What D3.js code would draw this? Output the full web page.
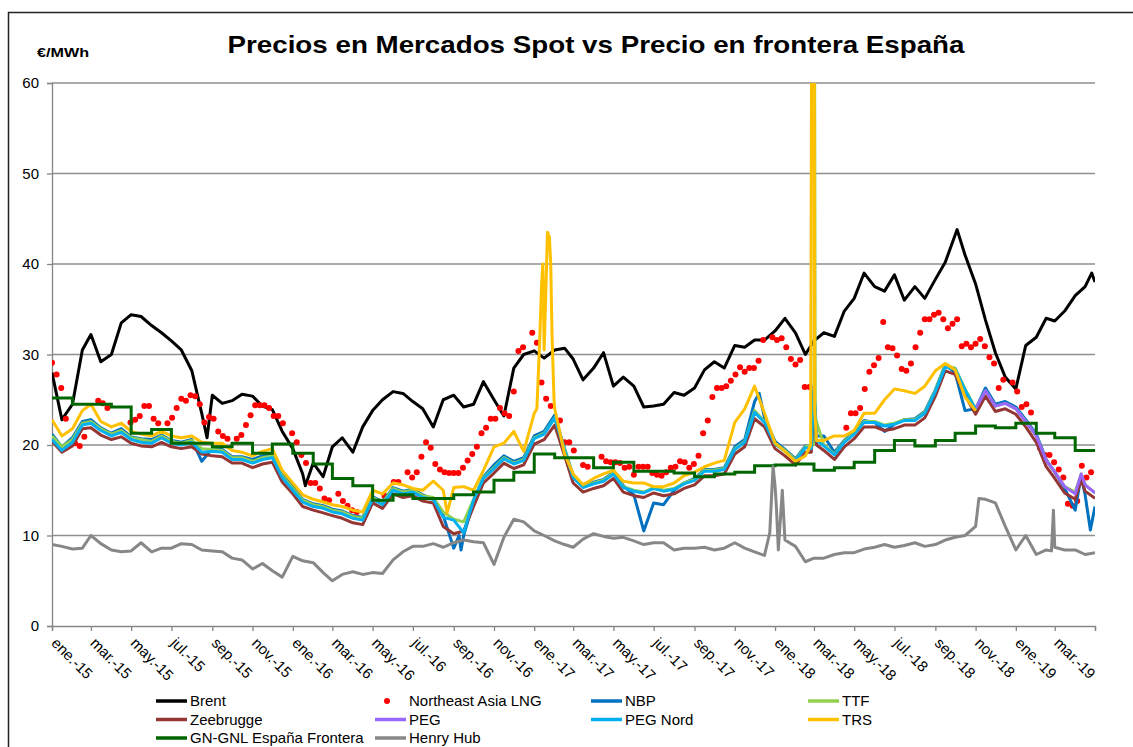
<!DOCTYPE html>
<html>
<head>
<meta charset="utf-8">
<script src="https://cdn.jsdelivr.net/npm/d3@7"></script>
<style>
  body { margin: 0; background: #fff; }
  svg { display: block; }
  text { font-family: "Liberation Sans", Arial, sans-serif; }
</style>
</head>
<body>
<svg id="chart" width="1133" height="747"></svg>
<script>
// semi-monthly values (1st and 16th of each month, Jan 2015 -> May 2019), €/MWh
var brent = [28.0, 22.8, 24.5, 30.5, 32.2, 29.2, 30.0, 33.5, 34.4, 34.2,
  33.2, 32.4, 31.5, 30.5, 28.2, 23.5, 25.5, 24.6, 24.9, 25.6,
  25.4, 24.3, 23.9, 21.5, 19.6, 16.8, 18.0, 16.5, 19.8, 20.8,
  19.2, 22.0, 23.8, 25.0, 25.9, 25.7, 24.8, 24.0, 22.0, 25.0,
  25.5, 24.2, 24.5, 27.0, 25.0, 23.2, 28.5, 30.0, 30.4, 29.6,
  30.5, 30.7, 29.5, 27.2, 28.5, 30.2, 26.5, 27.5, 26.5, 24.2,
  24.3, 24.5, 25.8, 25.5, 26.3, 28.3, 29.2, 28.5, 31.0, 30.8,
  31.6, 31.6, 32.6, 34.0, 32.4, 30.0, 31.5, 32.4, 32.0, 34.8,
  36.2, 39.0, 37.5, 37.0, 38.8, 36.0, 37.5, 36.2, 38.3, 40.2,
  43.2, 41.0, 37.8, 33.8, 30.2, 27.5, 26.2, 31.0, 31.9, 34.0,
  33.7, 34.8, 36.5, 37.5, 38.0];
var brentExtra = [["2015-08-24", 20.8], ["2016-01-20", 15.5], ["2018-10-04", 43.8], ["2019-04-26", 39.0]];

var nbp = [21.2, 19.8, 20.8, 22.6, 22.8, 21.9, 21.3, 21.8, 20.9, 20.7,
  20.6, 21.1, 20.5, 20.3, 20.6, 18.2, 19.6, 19.5, 18.7, 18.7,
  18.4, 18.8, 18.9, 16.8, 15.4, 14.0, 13.5, 13.3, 12.9, 12.7,
  12.2, 12.0, 14.3, 13.7, 15.3, 14.9, 15.1, 14.5, 14.0, 12.2,
  8.6, 10.0, 13.8, 16.5, 17.8, 18.8, 18.2, 18.6, 21.0, 21.5,
  23.3, 19.6, 16.6, 15.5, 15.9, 16.2, 17.0, 15.5, 14.5, 10.5,
  13.6, 13.4, 15.0, 15.8, 16.3, 17.3, 17.3, 17.5, 19.8, 20.6,
  24.8, 23.0, 20.4, 19.5, 18.5, 19.9, 26.5, 21.0, 19.2, 20.5,
  21.4, 22.7, 22.5, 21.5, 22.3, 22.8, 22.9, 23.7, 26.1, 28.9,
  28.0, 23.8, 24.0, 26.3, 24.5, 24.8, 24.2, 22.8, 21.2, 18.4,
  17.0, 15.2, 12.8, 14.5, 13.2];
var nbpExtra = [["2016-09-09", 10.0], ["2016-09-12", 8.4], ["2017-12-08", 25.7], ["2018-02-25", 19.8],
  ["2018-03-05", 21.0], ["2019-04-10", 16.6], ["2019-04-24", 10.6]];

var ttf = [21.0, 19.8, 20.6, 22.4, 22.6, 21.8, 21.2, 21.6, 20.8, 20.6,
  20.4, 21.0, 20.4, 20.2, 20.5, 19.6, 19.5, 19.4, 18.6, 18.6,
  18.2, 18.6, 18.8, 16.6, 15.2, 13.9, 13.4, 13.2, 12.8, 12.6,
  12.1, 11.9, 14.2, 13.6, 15.2, 14.8, 15.0, 14.4, 14.2, 12.6,
  11.8, 11.5, 14.0, 16.4, 17.5, 18.6, 18.0, 18.4, 20.8, 21.3,
  23.0, 19.5, 16.5, 15.4, 15.8, 16.1, 16.9, 15.4, 15.0, 14.8,
  15.3, 15.0, 15.2, 15.8, 16.2, 17.2, 17.2, 17.4, 19.6, 20.4,
  23.8, 22.6, 20.2, 19.4, 18.4, 19.8, 21.0, 20.0, 19.0, 20.4,
  21.3, 22.6, 22.6, 22.2, 22.4, 22.8, 22.8, 23.6, 26.0, 28.8,
  28.5, 26.2, 24.0, 26.0, 24.3, 24.6, 24.0, 22.6, 21.0, 18.3,
  17.0, 15.4, 14.8, 15.6, 14.7];
var ttfExtra = [["2018-02-28", 20.0], ["2018-03-02", 64.0], ["2018-03-03", 23.0], ["2019-04-10", 16.8]];

var zeebrugge = [20.4, 19.2, 19.9, 21.8, 21.9, 21.1, 20.6, 20.9, 20.2, 19.9,
  19.8, 20.3, 19.8, 19.6, 19.8, 19.0, 18.8, 18.7, 18.0, 18.0,
  17.5, 17.9, 18.1, 15.9, 14.6, 13.2, 12.8, 12.5, 12.2, 11.9,
  11.4, 11.2, 13.6, 13.0, 14.6, 14.2, 14.4, 13.8, 13.6, 11.0,
  10.2, 10.5, 13.2, 15.8, 16.9, 18.0, 17.4, 17.8, 20.1, 20.6,
  22.2, 18.8, 15.8, 14.8, 15.2, 15.5, 16.3, 14.8, 14.4, 14.2,
  14.7, 14.4, 14.6, 15.2, 15.6, 16.6, 16.6, 16.8, 19.0, 19.8,
  22.9, 22.0, 19.6, 18.8, 17.8, 19.2, 25.5, 19.4, 18.4, 19.8,
  20.7, 22.0, 22.0, 21.6, 21.8, 22.2, 22.2, 23.0, 25.4, 28.2,
  27.8, 25.5, 23.4, 25.4, 23.7, 24.0, 23.4, 22.0, 20.3, 17.6,
  16.3, 14.7, 14.0, 14.9, 14.1];
var zeebruggeExtra = [["2018-02-25", 19.2], ["2018-03-05", 20.0], ["2019-04-10", 16.2]];

// PEG starts on 1 Nov 2018 (index 92 of the semi-monthly grid)
var peg = [24.0, 26.0, 24.3, 24.6, 24.0, 22.6, 21.0, 18.3, 17.0, 15.4, 14.6, 15.6, 14.7];
var pegExtra = [["2019-04-10", 16.8]];

var pegNord = [20.6, 19.4, 20.3, 22.2, 22.4, 21.6, 21.0, 21.4, 20.6, 20.3,
  20.2, 20.8, 20.2, 20.0, 20.3, 19.2, 19.3, 19.2, 18.4, 18.4,
  18.0, 18.4, 18.6, 16.4, 15.0, 13.7, 13.2, 13.0, 12.6, 12.4,
  11.9, 11.7, 14.0, 13.4, 15.0, 14.6, 14.8, 14.2, 14.0, 12.0,
  11.7, 10.3, 13.9, 16.3, 17.4, 18.5, 17.9, 18.3, 20.7, 21.2,
  23.0, 19.4, 16.4, 15.3, 15.7, 16.0, 16.8, 15.3, 14.9, 14.7,
  15.2, 14.9, 15.1, 15.7, 16.1, 17.1, 17.1, 17.3, 19.5, 20.3,
  23.6, 22.5, 20.1, 19.3, 18.3, 19.7, 26.0, 19.9, 18.9, 20.3,
  21.2, 22.5, 22.5, 22.1, 22.3, 22.7, 22.7, 23.5, 25.9, 28.6,
  28.4, 26.1, 23.9];
var pegNordExtra = [["2018-02-25", 19.6], ["2018-03-05", 20.5]];

var trs = [22.8, 21.0, 21.8, 23.8, 24.5, 22.6, 22.0, 22.4, 21.5, 21.2,
  21.0, 21.5, 21.0, 20.8, 21.0, 20.3, 20.2, 20.2, 19.4, 19.2,
  18.8, 19.3, 19.6, 17.2, 15.8, 14.5, 14.0, 13.7, 13.4, 13.2,
  12.8, 12.6, 15.0, 14.6, 15.8, 15.6, 15.2, 15.0, 16.0, 15.0,
  15.3, 15.4, 15.0, 17.2, 19.8, 20.2, 21.5, 19.3, 23.5, 30.5,
  24.0, 19.0, 16.8, 15.6, 16.3, 16.8, 17.2, 16.0, 15.8, 15.8,
  15.4, 15.4, 15.8, 16.6, 17.0, 17.6, 18.0, 18.3, 22.5, 24.0,
  26.5, 23.5, 20.2, 19.3, 18.2, 18.8, 85.0, 20.5, 21.0, 21.0,
  21.6, 23.5, 23.5, 25.0, 26.2, 26.0, 25.7, 26.5, 28.2, 29.0,
  28.3, 25.3, 23.8];
var trsExtra = [["2016-08-22", 12.5], ["2017-01-05", 24.0], ["2017-01-09", 31.0], ["2017-01-12", 37.5],
  ["2017-01-14", 40.0], ["2017-01-19", 38.0], ["2017-01-21", 43.5], ["2017-01-24", 43.0],
  ["2017-01-26", 40.0], ["2017-01-28", 32.0], ["2017-01-31", 25.0],
  ["2018-02-24", 20.0], ["2018-02-26", 85.0], ["2018-03-02", 24.0], ["2018-03-05", 20.5]];

var henryHub = [9.0, 8.8, 8.5, 8.6, 10.0, 9.1, 8.4, 8.2, 8.3, 9.2,
  8.2, 8.6, 8.6, 9.1, 9.0, 8.4, 8.3, 8.2, 7.5, 7.3,
  6.3, 6.9, 6.1, 5.4, 7.7, 7.2, 7.0, 5.9, 5.0, 5.7,
  6.0, 5.7, 5.9, 5.8, 7.3, 8.2, 8.8, 8.8, 9.1, 8.7,
  9.2, 9.5, 9.3, 9.2, 6.8, 9.8, 11.8, 11.5, 10.5, 10.0,
  9.4, 9.0, 8.7, 9.6, 10.2, 9.9, 9.7, 9.8, 9.4, 9.0,
  9.2, 9.2, 8.4, 8.6, 8.6, 8.7, 8.4, 8.6, 9.2, 8.6,
  8.2, 7.8, 15.5, 9.5, 8.8, 7.1, 7.5, 7.5, 7.9, 8.1,
  8.1, 8.5, 8.7, 9.0, 8.7, 8.9, 9.2, 8.8, 9.0, 9.5,
  9.8, 10.0, 11.0, 14.0, 13.6, 11.0, 8.4, 10.0, 7.9, 8.4,
  8.7, 8.4, 8.4, 7.9, 8.1];
var henryHubExtra = [["2017-12-24", 10.3], ["2017-12-29", 17.6], ["2018-01-03", 13.2], ["2018-01-06", 8.4],
  ["2018-01-12", 15.0], ["2018-11-06", 14.1], ["2019-02-24", 8.3], ["2019-02-27", 12.8]];

// monthly border price (Jan 2015 -> Apr 2019)
var gnGnl = [25.2, 24.5, 24.5, 24.2, 21.3, 21.7, 20.2, 20.2, 19.8, 20.2, 19.1, 20.1,
  19.1, 17.9, 16.3, 15.5, 13.9, 14.5, 14.1, 14.1, 14.5, 14.8, 16.1, 17.0,
  19.0, 18.6, 18.6, 17.5, 18.1, 17.1, 17.1, 16.9, 16.5, 16.8, 17.0, 17.7,
  17.8, 17.9, 17.2, 17.5, 18.1, 19.4, 20.5, 19.9, 20.5, 21.3, 22.1, 21.9,
  22.4, 21.3, 20.8, 19.4];

// weekly Northeast Asia LNG (from 1 Jan 2015), null = no quote
var lng = [29.1, 27.8, 26.3, 22.9, null, 20.2, 19.9, 20.9, null, null,
  24.9, 24.6, 24.1, null, null, null, null, 22.5, 22.8, 23.2,
  24.3, 24.3, 22.9, 22.4, null, 22.4, 23.0, 24.1, 25.1, 24.9,
  25.5, 25.4, 24.5, 22.5, 23.1, 22.9, 21.5, 21.0, 20.7, null,
  20.7, 21.1, 22.2, 23.3, 24.4, 24.4, 24.4, 24.1, 23.2, 23.2,
  22.4, null, 21.3, 20.3, 18.9, 18.0, 15.8, 15.8, 15.2, 14.1,
  13.9, null, 14.6, 13.8, 13.3, 12.8, 12.6, null, null, null,
  null, null, 14.4, null, 15.9, 15.9, null, 17.0, 16.4, 17.0,
  18.7, 20.3, 19.7, 17.9, 17.3, 17.0, 16.9, 16.9, 16.9, 17.5,
  18.3, 19.0, 19.8, 21.3, 21.9, 22.9, 22.9, 24.1, 23.5, 23.2,
  25.9, 30.4, 30.8, null, 32.4, 31.3, 26.9, 25.1, 24.3, null,
  22.7, 20.3, 20.3, 19.4, null, 17.8, 17.6, null, null, 18.7,
  18.2, 18.1, 18.1, 18.0, 17.5, 17.6, 16.7, 17.6, 17.6, 17.6,
  16.9, 16.7, 16.6, 17.0, 17.5, 17.6, 18.2, 18.1, 17.5, 17.9,
  18.8, 21.3, 22.7, 25.3, 26.3, 26.3, 26.5, 27.1, 27.8, 28.6,
  28.1, 28.5, 28.5, 29.3, 31.6, null, 31.9, 31.6, 31.8, 30.8,
  29.5, 28.9, 29.4, 26.4, 26.4, null, null, null, null, null,
  null, null, 21.9, 23.5, 23.5, 24.1, 26.2, 28.1, 28.8, 29.6,
  33.6, 30.8, 30.7, 29.9, 28.4, 28.2, 29.0, 30.8, 32.4, 33.9,
  33.9, 34.4, 34.6, 33.9, 32.9, 33.4, 33.9, 30.9, 31.2, 30.8,
  31.2, 31.7, 30.9, 29.7, 29.0, 26.3, 27.2, null, 26.9, 25.9,
  24.2, 24.5, 23.6, null, 19.6, 18.9, 18.9, 18.1, 17.3, 16.4,
  13.5, 13.3, 13.8, 17.7, 16.4, 17.0];

var monthAbbr = ["ene.", "feb.", "mar.", "abr.", "may.", "jun.", "jul.", "ago.", "sep.", "oct.", "nov.", "dic."];
var yTicks = [0, 10, 20, 30, 40, 50, 60];

var width = 1133,
  height = 747;
var plot = { left: 52, right: 1095, top: 83, bottom: 626 };

var parseDate = d3.timeParse("%Y-%m-%d");
var semiDates = d3.range(105).map(function (k) {
  return new Date(2015, Math.floor(k / 2), k % 2 ? 16 : 1);
});

function toPoints(values, extras, start) {
  start = start || 0;
  var pts = values.map(function (v, i) {
    return { date: semiDates[start + i], value: v };
  });
  (extras || []).forEach(function (e) {
    pts.push({ date: parseDate(e[0]), value: e[1] });
  });
  return pts.sort(function (a, b) {
    return a.date - b.date;
  });
}

var x = d3
  .scaleTime()
  .domain([new Date(2015, 0, 1), new Date(2019, 4, 1)])
  .range([plot.left, plot.right]);
var y = d3.scaleLinear().domain([0, 60]).range([plot.bottom, plot.top]);

var svg = d3.select("#chart");

// outer chart frame
svg
  .append("rect")
  .attr("x", 8.5)
  .attr("y", 12.5)
  .attr("width", 1150)
  .attr("height", 760)
  .attr("fill", "#fff")
  .attr("stroke", "#222")
  .attr("stroke-width", 1.5);

svg
  .append("text")
  .attr("x", 596)
  .attr("y", 53)
  .attr("text-anchor", "middle")
  .attr("font-size", 24)
  .attr("font-weight", "bold")
  .attr("textLength", 737)
  .attr("lengthAdjust", "spacingAndGlyphs")
  .text("Precios en Mercados Spot vs Precio en frontera España");

svg
  .append("text")
  .attr("x", 37)
  .attr("y", 57)
  .attr("font-size", 12)
  .attr("font-weight", "bold")
  .attr("textLength", 52)
  .attr("lengthAdjust", "spacingAndGlyphs")
  .text("€/MWh");

// gridlines
svg
  .append("g")
  .selectAll("line")
  .data(yTicks.filter(function (d) { return d > 0; }))
  .enter()
  .append("line")
  .attr("x1", plot.left)
  .attr("x2", plot.right)
  .attr("y1", function (d) { return y(d); })
  .attr("y2", function (d) { return y(d); })
  .attr("stroke", "#8f8f8f")
  .attr("stroke-width", 1.3);

// axes
var yAxis = svg
  .append("g")
  .attr("transform", "translate(" + plot.left + ",0)")
  .call(d3.axisLeft(y).tickValues(yTicks).tickSize(5).tickPadding(8));
yAxis.selectAll("text").attr("font-size", 15).attr("fill", "#000").style("font-family", '"Liberation Sans", Arial, sans-serif');

var xTicks = d3.timeMonth.every(2).range(new Date(2015, 0, 1), new Date(2019, 4, 2));
var xAxis = svg
  .append("g")
  .attr("transform", "translate(0," + plot.bottom + ")")
  .call(
    d3
      .axisBottom(x)
      .tickValues(xTicks)
      .tickSize(5)
      .tickFormat(function (d) {
        if (d >= new Date(2019, 4, 1)) return "";
        return monthAbbr[d.getMonth()] + "-" + String(d.getFullYear()).slice(2);
      })
  );
xAxis
  .selectAll("text")
  .attr("font-size", 15)
  .attr("fill", "#000")
  .style("font-family", '"Liberation Sans", Arial, sans-serif')
  .attr("text-anchor", "start")
  .attr("y", 0)
  .attr("dy", 0)
  .attr("transform", function () {
    return "translate(-2,18) rotate(45)";
  });

[yAxis, xAxis].forEach(function (g) {
  g.selectAll("path, line").attr("stroke", "#868686").attr("stroke-width", 1.3);
});

// clip to the plot area
svg
  .append("clipPath")
  .attr("id", "plotClip")
  .append("rect")
  .attr("x", plot.left)
  .attr("y", plot.top)
  .attr("width", plot.right - plot.left)
  .attr("height", plot.bottom - plot.top);

var marks = svg.append("g").attr("clip-path", "url(#plotClip)");

var line = d3
  .line()
  .defined(function (d) { return d.value != null; })
  .x(function (d) { return x(d.date); })
  .y(function (d) { return y(d.value); });

function drawLine(points, color, w) {
  marks
    .append("path")
    .datum(points)
    .attr("fill", "none")
    .attr("stroke", color)
    .attr("stroke-width", w)
    .attr("stroke-linejoin", "round")
    .attr("d", line);
}

var lngPoints = lng
  .map(function (v, w) {
    return { date: d3.timeDay.offset(new Date(2015, 0, 1), 7 * w), value: v };
  })
  .filter(function (d) { return d.value != null; });

var monthly = d3.timeMonth.range(new Date(2015, 0, 1), new Date(2019, 4, 1));
var gnPoints = gnGnl.map(function (v, i) {
  return { date: monthly[i], value: v };
});
gnPoints.push({ date: new Date(2019, 4, 1), value: gnGnl[gnGnl.length - 1] });

var COLOR = {
  brent: "#000000",
  lng: "#ff0000",
  nbp: "#0070c0",
  ttf: "#92d050",
  zeebrugge: "#943634",
  peg: "#9966ff",
  pegNord: "#00b0f0",
  trs: "#ffc000",
  gn: "#006600",
  henry: "#878787",
};

drawLine(toPoints(brent, brentExtra), COLOR.brent, 3);

marks
  .append("g")
  .selectAll("circle")
  .data(lngPoints)
  .enter()
  .append("circle")
  .attr("cx", function (d) { return x(d.date); })
  .attr("cy", function (d) { return y(d.value); })
  .attr("r", 3)
  .attr("fill", COLOR.lng);

drawLine(toPoints(nbp, nbpExtra), COLOR.nbp, 3);
drawLine(toPoints(ttf, ttfExtra), COLOR.ttf, 3);
drawLine(toPoints(zeebrugge, zeebruggeExtra), COLOR.zeebrugge, 3);
drawLine(toPoints(peg, pegExtra, 92), COLOR.peg, 3);
drawLine(toPoints(pegNord, pegNordExtra), COLOR.pegNord, 3);
drawLine(toPoints(trs, trsExtra), COLOR.trs, 3);

marks
  .append("path")
  .datum(gnPoints)
  .attr("fill", "none")
  .attr("stroke", COLOR.gn)
  .attr("stroke-width", 3)
  .attr("d", line.curve(d3.curveStepAfter));
line.curve(d3.curveLinear);

drawLine(toPoints(henryHub, henryHubExtra), COLOR.henry, 3);

// legend
var legendItems = [
  { name: "Brent", color: COLOR.brent, col: 0, row: 0 },
  { name: "Northeast Asia LNG", color: COLOR.lng, col: 1, row: 0, dot: true },
  { name: "NBP", color: COLOR.nbp, col: 2, row: 0 },
  { name: "TTF", color: COLOR.ttf, col: 3, row: 0 },
  { name: "Zeebrugge", color: COLOR.zeebrugge, col: 0, row: 1 },
  { name: "PEG", color: COLOR.peg, col: 1, row: 1 },
  { name: "PEG Nord", color: COLOR.pegNord, col: 2, row: 1 },
  { name: "TRS", color: COLOR.trs, col: 3, row: 1 },
  { name: "GN-GNL España Frontera", color: COLOR.gn, col: 0, row: 2 },
  { name: "Henry Hub", color: COLOR.henry, col: 1, row: 2 },
];
var colX = [156, 375, 591, 808];
var rowY = [701, 719.5, 738];

var legend = svg.append("g").selectAll("g").data(legendItems).enter().append("g")
  .attr("transform", function (d) {
    return "translate(" + colX[d.col] + "," + rowY[d.row] + ")";
  });
legend
  .filter(function (d) { return !d.dot; })
  .append("line")
  .attr("x1", 0)
  .attr("x2", 31)
  .attr("stroke", function (d) { return d.color; })
  .attr("stroke-width", 3.5);
legend
  .filter(function (d) { return d.dot; })
  .append("circle")
  .attr("cx", 12)
  .attr("r", 3)
  .attr("fill", function (d) { return d.color; });
legend
  .append("text")
  .attr("x", 34)
  .attr("y", 5)
  .attr("font-size", 15)
  .attr("fill", "#000")
  .text(function (d) { return d.name; });
</script>
</body>
</html>
